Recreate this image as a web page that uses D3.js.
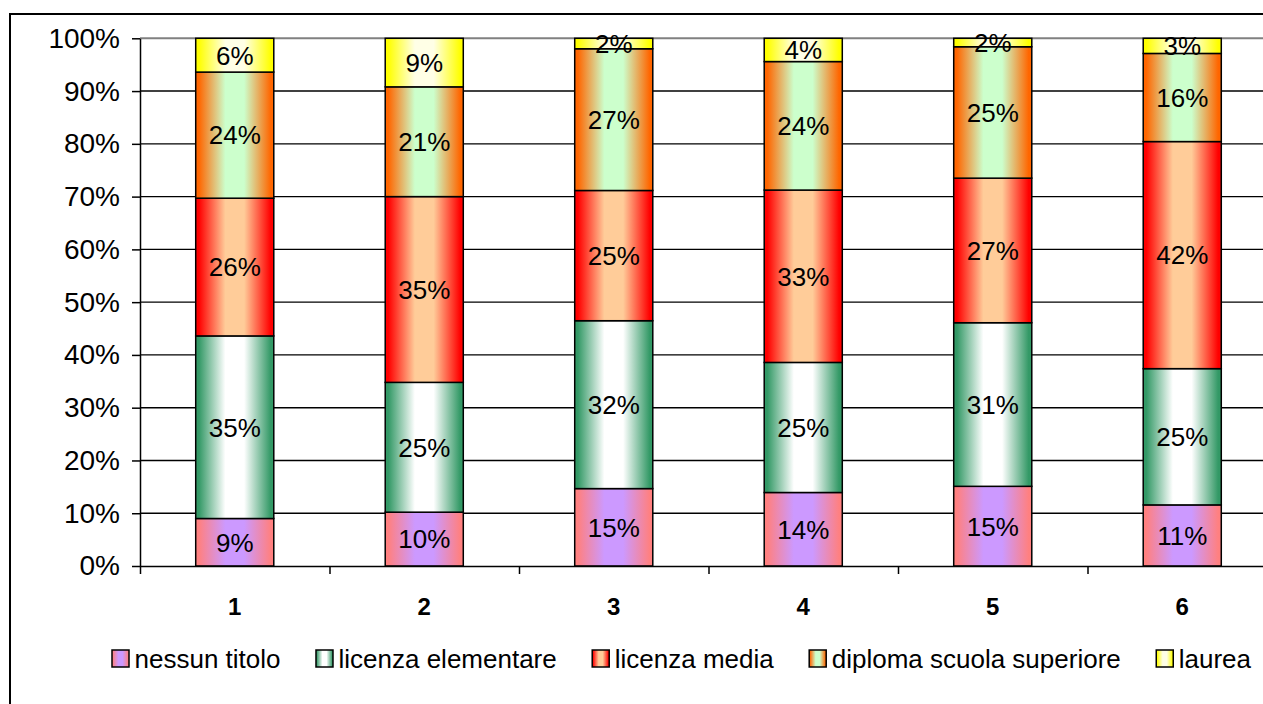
<!DOCTYPE html>
<html>
<head>
<meta charset="utf-8">
<script src="https://cdn.jsdelivr.net/npm/d3@7"></script>
<style>
  html, body { margin: 0; padding: 0; background: #fff; overflow: hidden; }
  svg { display: block; font-family: "Liberation Sans", Arial, sans-serif; }
</style>
</head>
<body>
<svg id="chart" width="1263" height="704"></svg>
<script>
// ---- data ----
const categories = ["1", "2", "3", "4", "5", "6"];
const seriesNames = ["nessun titolo", "licenza elementare", "licenza media", "diploma scuola superiore", "laurea"];
const nessunTitolo      = [9.0, 10.2, 14.8, 13.9, 15.1, 11.3];
const licenzaElementare = [34.6, 24.6, 32.1, 24.6, 31.0, 25.2];
const licenzaMedia      = [26.1, 35.2, 24.9, 32.6, 27.4, 42.0];
const diplomaSuperiore  = [23.9, 20.8, 27.1, 24.3, 24.9, 16.3];
const laurea            = [6.4, 9.2, 2.0, 4.4, 1.6, 2.8];
const yTickValues = [0, 0.1, 0.2, 0.3, 0.4, 0.5, 0.6, 0.7, 0.8, 0.9, 1];
const edgeColors   = ["#ff8080", "#339966", "#ff0000", "#ff6600", "#ffff00"];
const centerColors = ["#cc99ff", "#ffffff", "#ffcc99", "#ccffcc", "#ffffe6"];

const seriesValues = [nessunTitolo, licenzaElementare, licenzaMedia, diplomaSuperiore, laurea];
const table = categories.map((c, i) => {
  const row = { cat: c };
  seriesNames.forEach((s, j) => row[s] = seriesValues[j][i]);
  return row;
});

// ---- layout ----
const svg = d3.select("#chart");
const plotLeft = 140, plotTop = 38.3, plotBottom = 566;
const step = 189.5;
const plotRight = plotLeft + step * categories.length;

svg.append("rect").attr("width", 1263).attr("height", 704).attr("fill", "#fff");
// outer chart frame
svg.append("rect").attr("x", 10).attr("y", 14).attr("width", 1400).attr("height", 900)
  .attr("fill", "none").attr("stroke", "#000").attr("stroke-width", 2);

const x = d3.scaleBand().domain(categories).range([plotLeft, plotRight])
  .paddingInner(0.588).paddingOuter(0.294);
const xEdge = d3.scaleLinear().domain([0, categories.length]).range([plotLeft, plotRight]);
const y = d3.scaleLinear().domain([0, 1]).range([plotBottom, plotTop]);

// gradients (edge -> center -> edge)
const defs = svg.append("defs");
seriesNames.forEach((s, i) => {
  const g = defs.append("linearGradient").attr("id", "grad" + i)
    .attr("x1", "0").attr("x2", "1").attr("y1", "0").attr("y2", "0");
  [[0, edgeColors[i]], [0.04, edgeColors[i]], [0.38, centerColors[i]],
   [0.62, centerColors[i]], [0.96, edgeColors[i]], [1, edgeColors[i]]]
    .forEach(([o, c]) => g.append("stop").attr("offset", o).attr("stop-color", c));
});

// gridlines
svg.append("g").selectAll("line")
  .data(yTickValues.filter(t => t > 0 && t < 1))
  .join("line")
  .attr("x1", plotLeft).attr("x2", 1300)
  .attr("y1", d => y(d)).attr("y2", d => y(d))
  .attr("stroke", "#000").attr("stroke-width", 1.4);
// plot area top border (gray)
svg.append("line").attr("x1", plotLeft).attr("x2", 1300)
  .attr("y1", y(1)).attr("y2", y(1))
  .attr("stroke", "#808080").attr("stroke-width", 2);

// stacked bars
const stack = d3.stack().keys(seriesNames).offset(d3.stackOffsetExpand);
const stacked = stack(table);
const fmt = v => d3.format(".0f")(v) + "%";

const layers = svg.append("g").selectAll("g").data(stacked).join("g")
  .attr("fill", (d, i) => "url(#grad" + i + ")");
layers.selectAll("rect").data(d => d).join("rect")
  .attr("x", d => x(d.data.cat))
  .attr("width", x.bandwidth())
  .attr("y", d => y(d[1]))
  .attr("height", d => y(d[0]) - y(d[1]))
  .attr("stroke", "#000").attr("stroke-width", 1.5);

// axes
const yAxis = d3.axisLeft(y).tickValues(yTickValues).tickFormat(d3.format(".0%"))
  .tickSize(8).tickSizeOuter(0).tickPadding(12);
const gy = svg.append("g").attr("transform", `translate(${plotLeft},0)`).call(yAxis);
gy.selectAll("text").attr("font-size", 28).attr("fill", "#000")
  .attr("font-family", "Liberation Sans, Arial, sans-serif");
gy.selectAll("line, path").attr("stroke", "#000").attr("stroke-width", 1.5);

const xAxis = d3.axisBottom(xEdge).tickValues(d3.range(categories.length + 1))
  .tickFormat("").tickSize(8).tickSizeOuter(0);
const gx = svg.append("g").attr("transform", `translate(0,${plotBottom})`).call(xAxis);
gx.selectAll("line, path").attr("stroke", "#000").attr("stroke-width", 1.5);

svg.append("g").selectAll("text").data(categories).join("text")
  .attr("x", d => x(d) + x.bandwidth() / 2)
  .attr("y", 615)
  .attr("text-anchor", "middle")
  .attr("font-size", 24).attr("font-weight", "bold")
  .text(d => d);

// data labels
layers.each(function (layer, i) {
  d3.select(this).selectAll("text").data(layer).join("text")
    .attr("x", d => x(d.data.cat) + x.bandwidth() / 2)
    .attr("y", d => (y(d[0]) + y(d[1])) / 2)
    .attr("dy", "0.36em")
    .attr("text-anchor", "middle")
    .attr("font-size", 26).attr("fill", "#000")
    .text(d => fmt(d.data[layer.key]));
});

// legend
const legend = svg.append("g");
let lx = 112;
seriesNames.forEach((s, i) => {
  legend.append("rect").attr("x", lx).attr("y", 650).attr("width", 17).attr("height", 17)
    .attr("fill", "url(#grad" + i + ")").attr("stroke", "#000").attr("stroke-width", 1.5);
  const t = legend.append("text").attr("x", lx + 22.5).attr("y", 668)
    .attr("font-size", 26).attr("fill", "#000").text(s);
  lx += 22.5 + t.node().getComputedTextLength() + 35.5;
});
</script>
</body>
</html>
